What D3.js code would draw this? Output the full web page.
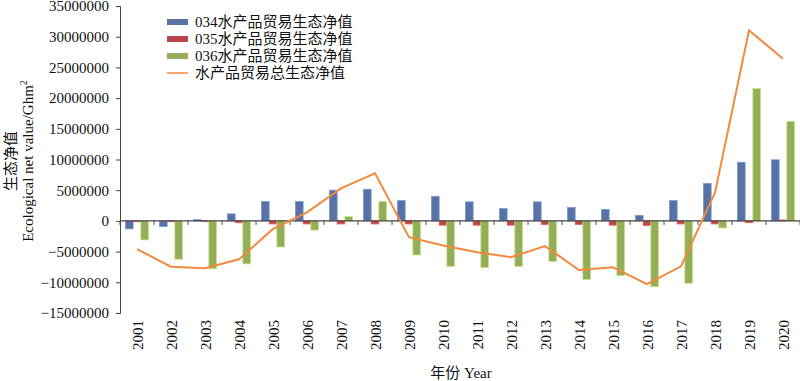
<!DOCTYPE html>
<html>
<head>
<meta charset="utf-8">
<script src="https://cdn.jsdelivr.net/npm/d3@7"></script>
<style>
  body { margin: 0; background: #fff; }
  text { font-family: "Liberation Serif", "Noto Sans CJK SC", serif; fill: #111; }
</style>
</head>
<body>
<svg width="800" height="381"></svg>
<script>
const years = ["2001","2002","2003","2004","2005","2006","2007","2008","2009","2010",
               "2011","2012","2013","2014","2015","2016","2017","2018","2019","2020"];
const s034 = [-1300000, -900000, 200000, 1150000, 3150000, 3150000, 5000000, 5150000, 3300000, 4000000,
              3100000, 2000000, 3100000, 2200000, 1850000, 900000, 3300000, 6100000, 9550000, 9950000];
const s035 = [-100000, -100000, -100000, -300000, -500000, -500000, -500000, -500000, -500000, -700000,
              -700000, -700000, -600000, -600000, -700000, -750000, -500000, -500000, -300000, 150000];
const s036 = [-3100000, -6250000, -7800000, -7000000, -4250000, -1500000, 700000, 3150000, -5550000, -7400000,
              -7600000, -7400000, -6600000, -9550000, -8900000, -10700000, -10150000, -1150000, 21550000, 16200000];
const total = [-4600000, -7450000, -7700000, -6250000, -1300000, 1400000, 5300000, 7750000, -2650000, -4000000,
               -5100000, -5900000, -4100000, -8000000, -7550000, -10300000, -7400000, 4600000, 31050000, 26400000];
const yTicks = [-15000000, -10000000, -5000000, 0, 5000000, 10000000, 15000000, 20000000, 25000000, 30000000, 35000000];

const seriesNames = ["034水产品贸易生态净值", "035水产品贸易生态净值", "036水产品贸易生态净值"];
const lineName = "水产品贸易总生态净值";
const barColors = ["#5872a3", "#b8474b", "#93ad5b"];
const lineColor = "#f28a3e";

const svg = d3.select("svg");
const plotLeft = 120, plotRight = 800, plotTop = 6, plotBottom = 313;

const x0 = d3.scaleBand().domain(years).range([plotLeft, plotRight]).paddingInner(0.32).paddingOuter(0.16);
const x1 = d3.scaleBand().domain([0, 1, 2]).range([0, x0.bandwidth()]);
const y = d3.scaleLinear().domain([-15000000, 35000000]).range([plotBottom, plotTop]);

// y axis
const yAxis = svg.append("g")
    .attr("transform", `translate(${plotLeft},0)`)
    .call(d3.axisLeft(y).tickValues(yTicks).tickFormat(d3.format("d")).tickSizeOuter(0).tickSize(4).tickPadding(7));
yAxis.select(".domain").attr("stroke", "#444");
yAxis.selectAll(".tick line").attr("stroke", "#444");
yAxis.selectAll(".tick text").style("font-size", "15px").attr("fill", "#111");

// bars
const bars = svg.append("g");
[s034, s035, s036].forEach((vals, k) => {
    bars.selectAll(null)
        .data(vals)
        .enter().append("rect")
        .attr("x", (d, i) => x0(years[i]) + x1(k))
        .attr("width", x1.bandwidth())
        .attr("y", d => y(Math.max(0, d)))
        .attr("height", d => Math.abs(y(d) - y(0)))
        .attr("fill", barColors[k])
        .attr("stroke", d3.color(barColors[k]).brighter(0.8))
        .attr("stroke-width", 0.8);
});

// x axis at zero
const step = x0.step();
const xg = svg.append("g");
xg.append("line")
    .attr("x1", plotLeft).attr("x2", plotRight)
    .attr("y1", y(0)).attr("y2", y(0))
    .attr("stroke", "#444").attr("stroke-width", 1.2);
xg.selectAll(null)
    .data(d3.range(years.length + 1))
    .enter().append("line")
    .attr("x1", i => plotLeft + i * step).attr("x2", i => plotLeft + i * step)
    .attr("y1", y(0)).attr("y2", y(0) + 4)
    .attr("stroke", "#444");

// total line
const line = d3.line()
    .x((d, i) => x0(years[i]) + x0.bandwidth() / 2)
    .y(d => y(d));
svg.append("path")
    .datum(total)
    .attr("d", line)
    .attr("fill", "none")
    .attr("stroke", lineColor)
    .attr("stroke-width", 2);

// year labels
svg.append("g").selectAll("text")
    .data(years)
    .enter().append("text")
    .attr("transform", d => `translate(${x0(d) + x0.bandwidth() / 2 + 1},320) rotate(-90)`)
    .attr("dy", "0.35em")
    .attr("text-anchor", "end")
    .style("font-size", "15px")
    .text(d => d);

// axis titles
svg.append("text")
    .attr("x", 461).attr("y", 378)
    .attr("text-anchor", "middle")
    .style("font-size", "15px")
    .text("年份  Year");

const yt = svg.append("text")
    .attr("transform", "translate(0,161) rotate(-90)")
    .attr("text-anchor", "middle")
    .style("font-size", "15px");
yt.append("tspan").attr("x", 0).attr("y", 16).text("生态净值");
yt.append("tspan").attr("x", 0).attr("y", 33).text("Ecological net value/Ghm");
yt.append("tspan").attr("dy", -6).style("font-size", "10px").text("2");

// legend
const legend = svg.append("g").attr("transform", "translate(167,22)");
seriesNames.forEach((name, k) => {
    legend.append("rect")
        .attr("x", 0).attr("y", k * 17 - 3)
        .attr("width", 21).attr("height", 6)
        .attr("fill", barColors[k]);
    legend.append("text")
        .attr("x", 28).attr("y", k * 17)
        .attr("dy", "0.35em")
        .style("font-size", "15px")
        .text(name);
});
legend.append("line")
    .attr("x1", 0).attr("x2", 21)
    .attr("y1", 51).attr("y2", 51)
    .attr("stroke", lineColor).attr("stroke-width", 1.5);
legend.append("text")
    .attr("x", 28).attr("y", 51)
    .attr("dy", "0.35em")
    .style("font-size", "15px")
    .text(lineName);
</script>
</body>
</html>
